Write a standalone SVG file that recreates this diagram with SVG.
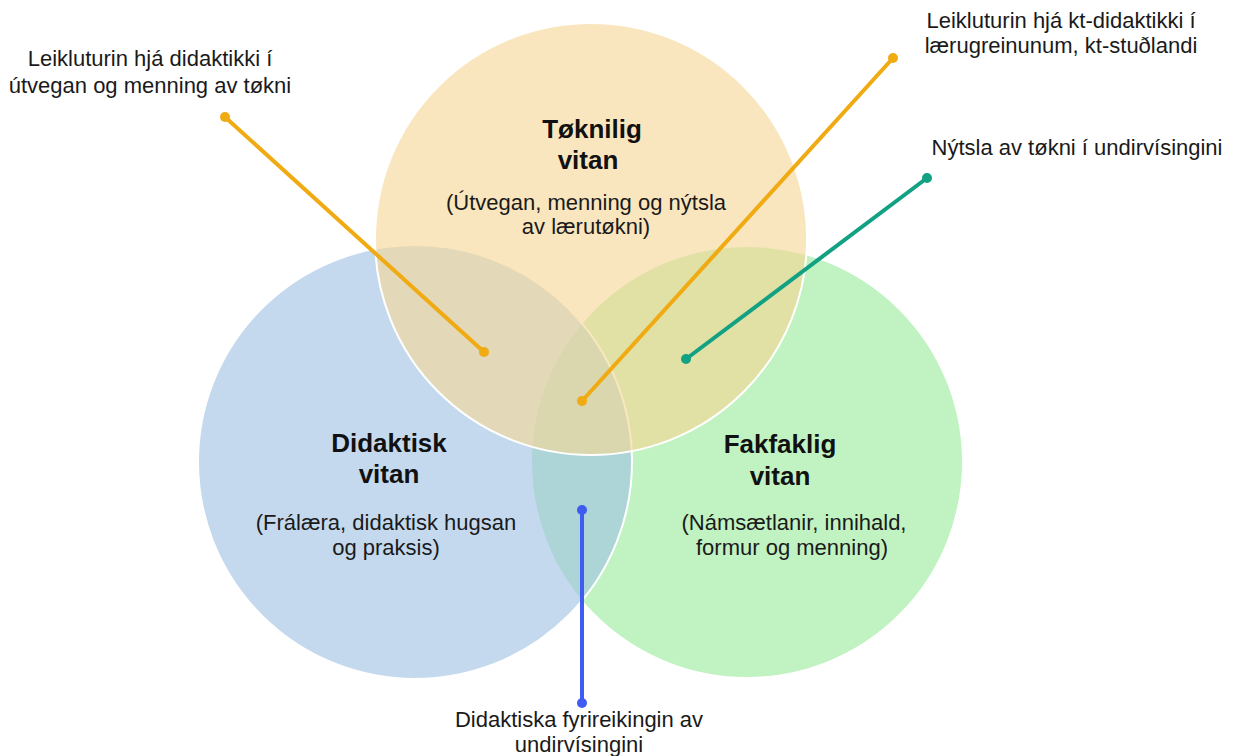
<svg xmlns="http://www.w3.org/2000/svg" width="1236" height="756" viewBox="0 0 1236 756">
<style>
.c{stroke:#ffffff;stroke-width:2;fill-opacity:0.62}
.t{font-family:"Liberation Sans",Arial,sans-serif;font-size:22px;fill:#1a1a1a;text-anchor:middle}
.b{font-family:"Liberation Sans",Arial,sans-serif;font-size:26px;font-weight:bold;fill:#111;text-anchor:middle}
.l{fill:none;stroke-width:4;stroke-linecap:round}
</style>
<rect width="1236" height="756" fill="#ffffff"/>
<g id="circle-fakfaklig"><circle class="c" cx="747" cy="462" r="216" fill="#9bea9b"/></g>
<g id="circle-didaktisk"><circle class="c" cx="415" cy="462" r="217" fill="#a2c1e4"/></g>
<g id="circle-toknilig"><circle class="c" cx="591" cy="239" r="216" fill="#f5d696"/></g>
<g id="label-toknilig">
<text class="b" x="592" y="138">Tøknilig</text>
<text class="b" x="588" y="169">vitan</text>
<text class="t" x="586" y="210">(Útvegan, menning og nýtsla</text>
<text class="t" x="586" y="234">av lærutøkni)</text>
</g>
<g id="label-didaktisk">
<text class="b" x="389" y="452">Didaktisk</text>
<text class="b" x="389" y="483">vitan</text>
<text class="t" x="386" y="530">(Frálæra, didaktisk hugsan</text>
<text class="t" x="386" y="555">og praksis)</text>
</g>
<g id="label-fakfaklig">
<text class="b" x="780" y="453">Fakfaklig</text>
<text class="b" x="780" y="485">vitan</text>
<text class="t" x="794" y="530">(Námsætlanir, innihald,</text>
<text class="t" x="792" y="555">formur og menning)</text>
</g>
<g id="connectors">
<line class="l" x1="225" y1="117" x2="484" y2="352" stroke="#f0aa12"/>
<circle cx="225" cy="117" r="5" fill="#f0aa12"/><circle cx="484" cy="352" r="5" fill="#f0aa12"/>
<line class="l" x1="893" y1="58" x2="582" y2="401" stroke="#f0aa12"/>
<circle cx="893" cy="58" r="5" fill="#f0aa12"/><circle cx="582" cy="401" r="5" fill="#f0aa12"/>
<line class="l" x1="927" y1="178" x2="686" y2="359" stroke="#12a183"/>
<circle cx="927" cy="178" r="5" fill="#12a183"/><circle cx="686" cy="359" r="5" fill="#12a183"/>
<line class="l" x1="582" y1="510" x2="582" y2="703" stroke="#3f5cf2"/>
<circle cx="582" cy="510" r="5" fill="#3f5cf2"/><circle cx="582" cy="703" r="5" fill="#3f5cf2"/>
</g>
<g id="note-utvegan">
<text class="t" x="150" y="66">Leikluturin hjá didaktikki í</text>
<text class="t" x="150" y="93">útvegan og menning av tøkni</text>
</g>
<g id="note-kt">
<text class="t" x="1061" y="28">Leikluturin hjá kt-didaktikki í</text>
<text class="t" x="1061" y="53">lærugreinunum, kt-stuðlandi</text>
</g>
<g id="note-nytsla">
<text class="t" x="1077" y="155">Nýtsla av tøkni í undirvísingini</text>
</g>
<g id="note-fyrireiking">
<text class="t" x="579" y="727">Didaktiska fyrireikingin av</text>
<text class="t" x="579" y="752">undirvísingini</text>
</g>
</svg>
